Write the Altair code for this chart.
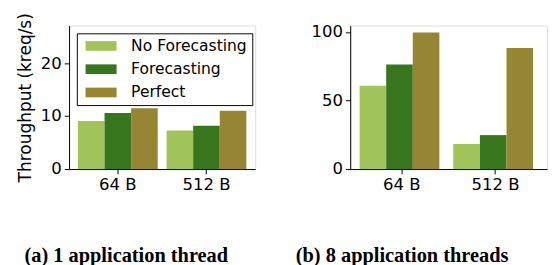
import altair as alt
import pandas as pd

sizes = ["64 B", "512 B"]
methods = ["No Forecasting", "Forecasting", "Perfect"]
colors = ["#a1c45a", "#38761d", "#968633"]

# values (kreq/s)
one_thread = {
    "No Forecasting": [9.1, 7.3],
    "Forecasting": [10.6, 8.2],
    "Perfect": [11.5, 11.0],
}
eight_threads = {
    "No Forecasting": [60.8, 18.4],
    "Forecasting": [76.4, 24.8],
    "Perfect": [99.8, 88.5],
}

def to_df(d):
    rows = []
    for m in methods:
        for s, v in zip(sizes, d[m]):
            rows.append({"size": s, "method": m, "value": v})
    return pd.DataFrame(rows)

FONT = "DejaVu Sans"
rect_path = "M-3.2,-1H3.2V1H-3.2Z"

def panel(df, ymax, yticks, width, ytitle, show_legend, subtitle, dx):
    legend = None
    if show_legend:
        legend = alt.Legend(
            title=None, orient="none", legendX=8, legendY=8,
            symbolType=rect_path, symbolSize=100, symbolStrokeWidth=0,
            symbolOpacity=1, symbolOffset=12,
            labelFont=FONT, labelFontSize=16, labelColor="#000",
            labelOffset=23, rowPadding=8,
            strokeColor="#000", padding=5, fillColor="white",
            cornerRadius=0,
        )
    return alt.Chart(df).mark_bar().encode(
        x=alt.X("size:N", sort=sizes, title=None,
                scale=alt.Scale(paddingInner=0.1, paddingOuter=0.1),
                axis=alt.Axis(labelAngle=0, labelFont=FONT, labelFontSize=17,
                              labelColor="#000", tickColor="#000", domainColor="#000",
                              tickSize=5, labelPadding=3)),
        xOffset=alt.XOffset("method:N", sort=methods),
        y=alt.Y("value:Q", title=ytitle,
                scale=alt.Scale(domain=[0, ymax], nice=False),
                axis=alt.Axis(values=yticks, grid=False, labelFont=FONT, labelFontSize=17,
                              labelColor="#000", tickColor="#000", domainColor="#000",
                              tickSize=5, labelPadding=3,
                              titleFont=FONT, titleFontSize=17.5, titleFontWeight="normal",
                              titleColor="#000", titlePadding=6)),
        color=alt.Color("method:N", sort=methods,
                        scale=alt.Scale(domain=methods, range=colors),
                        legend=legend),
    ).properties(
        width=width, height=148,
        title=alt.TitleParams(subtitle, orient="bottom", font="Liberation Serif",
                              fontSize=21, fontWeight="bold", color="#000",
                              frame="group", anchor="middle", dx=dx, offset=55),
    )

left = panel(to_df(one_thread), 27.1, [0, 10, 20], 192,
             "Throughput (kreq/s)", True, "(a) 1 application thread", -37)
right = panel(to_df(eight_threads), 104.8, [0, 50, 100], 203,
              None, False, "(b) 8 application threads", -48)

chart = alt.hconcat(left, right, spacing=40).properties(
    padding={"left": 8, "top": 0, "right": 0, "bottom": 0}
).configure_view(stroke="#222", strokeWidth=1).configure(background="white")

chart.save("out.html", embed_options={"renderer": "svg", "actions": False})
